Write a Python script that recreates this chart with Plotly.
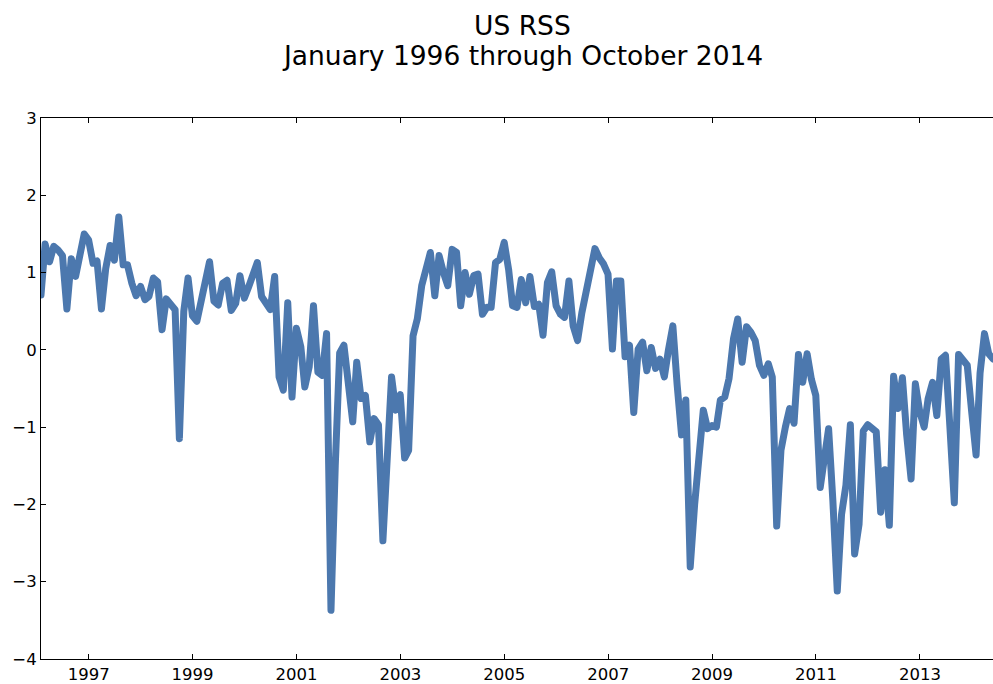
import pandas as pd
import plotly.graph_objects as go

# Monthly US RSS values, starting January 1996
rss_values = [
    0.71, 1.37, 1.14, 1.34, 1.29, 1.22, 0.53, 1.18, 0.95, 1.25, 1.50, 1.42,
    1.12, 1.15, 0.53, 1.05, 1.35, 1.16, 1.72, 1.10, 1.10, 0.86, 0.70, 0.82,
    0.65, 0.69, 0.93, 0.88, 0.26, 0.66, 0.58, 0.52, -1.15, 0.50, 0.93, 0.44,
    0.37, 0.60, 0.85, 1.14, 0.63, 0.58, 0.86, 0.90, 0.51, 0.60, 0.96, 0.67,
    0.82, 0.98, 1.13, 0.69, 0.60, 0.52, 0.95, -0.35, -0.52, 0.61, -0.61, 0.28,
    0.04, -0.48, -0.22, 0.57, -0.29, -0.33, 0.21, -3.37, -1.50, -0.04, 0.06, -0.55,
    -0.93, -0.16, -0.63, -0.59, -1.19, -0.89, -0.97, -2.47, -1.35, -0.35, -0.78, -0.58,
    -1.40, -1.30, 0.18, 0.40, 0.83, 1.04, 1.26, 0.70, 1.22, 1.00, 0.83, 1.30,
    1.26, 0.57, 1.00, 0.72, 0.96, 0.98, 0.46, 0.55, 0.55, 1.13, 1.17, 1.39,
    1.04, 0.57, 0.55, 0.91, 0.61, 0.95, 0.56, 0.59, 0.19, 0.87, 1.01, 0.57,
    0.46, 0.42, 0.89, 0.31, 0.12, 0.48, 0.74, 1.09, 1.31, 1.19, 1.11, 0.98,
    0.01, 0.89, 0.89, -0.09, 0.06, -0.81, 0.01, 0.10, -0.27, 0.03, -0.24, -0.12,
    -0.35, 0.00, 0.31, -0.45, -1.10, -0.65, -2.81, -2.00, -1.30, -0.78, -1.02, -0.98,
    -1.00, -0.65, -0.61, -0.37, 0.14, 0.40, -0.16, 0.30, 0.23, 0.12, -0.20, -0.33,
    -0.18, -0.35, -2.28, -1.30, -1.00, -0.76, -0.95, -0.06, -0.42, -0.05, -0.38, -0.59,
    -1.78, -1.40, -1.02, -1.95, -3.12, -2.13, -1.75, -0.97, -2.64, -2.26, -1.05, -0.97,
    -1.01, -1.06, -2.10, -1.55, -2.27, -0.34, -0.76, -0.36, -1.10, -1.67, -0.44, -0.80,
    -1.00, -0.63, -0.42, -0.85, -0.12, -0.07, -1.00, -1.98, -0.06, -0.12, -0.20, -0.80,
    -1.36, -0.30, 0.21, -0.05, -0.12,
]
start_date = "1996-01-31"
dates = pd.date_range(start_date, periods=len(rss_values), freq="ME")

tick_years = [1997, 1999, 2001, 2003, 2005, 2007, 2009, 2011, 2013]
tick_dates = [f"{y}-01-01" for y in tick_years]
tick_text = [str(y) for y in tick_years]

title_lines = ["US RSS", "January 1996 through October 2014"]

fig = go.Figure(
    go.Scatter(
        x=dates, y=rss_values, mode="lines",
        line=dict(color="#4C78AE", width=7),
        hoverinfo="skip",
    )
)

title_y = [1.1705, 1.1160]
for txt, yy in zip(title_lines, title_y):
    fig.add_annotation(
        text=txt, x=0.5063, y=yy, xref="paper", yref="paper",
        xanchor="center", yanchor="middle", showarrow=False,
        font=dict(family="DejaVu Sans", size=26.5, color="black"),
    )

fig.update_layout(
    width=993, height=684,
    margin=dict(l=41, r=0, t=118, b=22),
    paper_bgcolor="white", plot_bgcolor="white",
    showlegend=False,
    font=dict(family="DejaVu Sans", size=16.5, color="black"),
    xaxis=dict(
        range=["1996-01-31", "2014-05-30"],
        tickvals=tick_dates, ticktext=tick_text,
        ticks="inside", ticklen=5, tickwidth=1, tickcolor="black",
        showline=True, linecolor="black", linewidth=1, mirror="ticks",
        showgrid=False, zeroline=False,
    ),
    yaxis=dict(
        range=[-4, 3], dtick=1, tick0=0,
        ticks="inside", ticklen=5, tickwidth=1, tickcolor="black",
        showline=True, linecolor="black", linewidth=1,
        showgrid=False, zeroline=False,
    ),
)

post = (
    "document.body.style.margin='0';document.body.style.overflow='hidden';"
    "document.querySelectorAll('.scatterlayer path.js-line').forEach(function(p){"
    "p.style.strokeLinejoin='round';p.style.strokeLinecap='round';});"
)

fig.write_html(
    "out.html",
    config={"displayModeBar": False},
    post_script=post,
)
